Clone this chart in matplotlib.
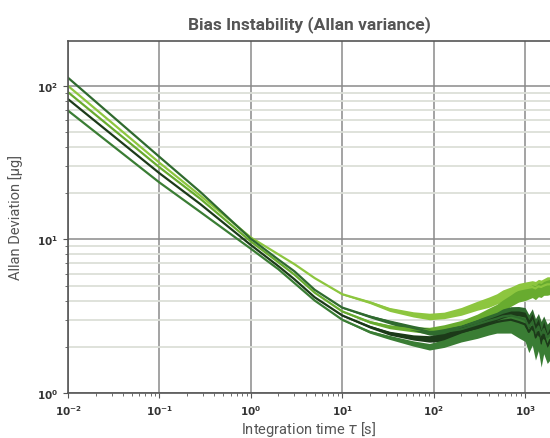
import matplotlib
matplotlib.use("Agg")
import matplotlib.pyplot as plt
import numpy as np

# integration times [s]
tau = [0.01, 0.1, 0.28, 1, 2, 3, 5, 10, 20, 33, 60, 90, 130, 200, 300, 400,
       490, 570, 700, 850, 1000, 1100, 1200, 1300, 1400, 1500, 1600, 1750, 1875]

# Allan deviation [ug] per sensor
dev_a = [113, 34.5, 20.4, 10.1, 7.4, 6.2, 4.7, 3.6, 3.15, 2.9, 2.65, 2.5, 2.5,
         2.6, 2.8, 2.95, 3.05, 3.15, 3.2, 3.1, 3.0, 2.7, 2.9, 2.5, 2.7, 2.4,
         2.6, 2.3, 2.4]
dev_b = [100, 31.6, 19.3, 10.3, 8.0, 6.9, 5.6, 4.4, 3.9, 3.5, 3.25, 3.15, 3.2,
         3.4, 3.7, 3.9, 4.1, 4.3, 4.5, 4.7, 4.8, 4.85, 4.9, 4.8, 4.95, 4.9,
         5.0, 5.1, 5.1]
dev_c = [91, 29.5, 18.4, 9.7, 7.1, 5.9, 4.5, 3.4, 2.9, 2.7, 2.6, 2.55, 2.65,
         2.8, 3.05, 3.3, 3.5, 3.7, 4.0, 4.3, 4.4, 4.5, 4.6, 4.5, 4.7, 4.65,
         4.8, 4.85, 4.9]
dev_d = [82, 27, 17.0, 9.2, 6.7, 5.5, 4.2, 3.2, 2.7, 2.45, 2.3, 2.25, 2.3,
         2.5, 2.65, 2.8, 2.9, 2.95, 3.0, 2.9, 2.8, 2.5, 2.7, 2.3, 2.5, 2.1,
         2.4, 2.0, 2.2]
dev_e = [69, 23.5, 15.1, 8.7, 6.4, 5.2, 4.0, 3.0, 2.5, 2.3, 2.1, 2.0, 2.1,
         2.3, 2.45, 2.6, 2.7, 2.75, 2.8, 2.7, 2.6, 2.2, 2.5, 2.0, 2.3, 1.8,
         2.2, 1.9, 2.0]

# relative half-width of the noise band
noise_light = [0, 0, 0, 0, 0, 0, 0, 0.01, 0.02, 0.03, 0.04, 0.05, 0.05, 0.06,
               0.07, 0.08, 0.08, 0.09, 0.09, 0.1, 0.1, 0.1, 0.1, 0.11, 0.11,
               0.11, 0.11, 0.12, 0.12]
noise_dark = [0, 0, 0, 0, 0, 0, 0, 0.01, 0.02, 0.03, 0.04, 0.05, 0.06, 0.07,
              0.08, 0.09, 0.1, 0.12, 0.14, 0.18, 0.2, 0.2, 0.22, 0.22, 0.22,
              0.22, 0.22, 0.22, 0.22]

series = [
    (dev_b, noise_light, "#8dc63f"),
    (dev_c, noise_light, "#68ab2f"),
    (dev_a, noise_dark, "#2f6a2e"),
    (dev_d, noise_dark, "#1c3a19"),
    (dev_e, noise_dark, "#3a7d34"),
]

fig = plt.figure(figsize=(5.5, 4.39), dpi=100)
ax = fig.add_axes([68 / 550, 45 / 439, 1 - 68 / 550, 352 / 439])

t = np.array(tau)
for vals, noise, col in series:
    v = np.array(vals)
    s = np.array(noise)
    ax.fill_between(t, v / (1 + s), v * (1 + s), color=col, lw=0)
    ax.plot(t, v, color=col, lw=1.6)

ax.set_xscale("log")
ax.set_yscale("log")
ax.set_xlim(1e-2, 1875)
ax.set_ylim(1, 196)

ax.grid(True, which="major", color="#8a8a8a", lw=1.1)
ax.grid(True, which="minor", axis="y", color="#dcdfd8", lw=1.3)
ax.set_axisbelow(True)

ax.spines["right"].set_visible(False)
for sp in ["left", "bottom", "top"]:
    ax.spines[sp].set_color("#555555")
    ax.spines[sp].set_linewidth(1.2)

ax.tick_params(which="both", colors="#555555", labelcolor="#333333",
               labelsize=7.5)
for lab in ax.get_xticklabels() + ax.get_yticklabels():
    lab.set_fontweight("bold")

ax.set_title("Bias Instability (Allan variance)", fontsize=12.5,
             fontweight="bold", color="#555555", family="Roboto", pad=9)
ax.set_xlabel(r"Integration time $\tau$ [s]", fontsize=10.5, color="#555555",
              family="Roboto", labelpad=2)
ax.set_ylabel("Allan Deviation [µg]", fontsize=10.5, color="#555555",
              family="Roboto", labelpad=10)

fig.savefig("out.png", dpi=100)
